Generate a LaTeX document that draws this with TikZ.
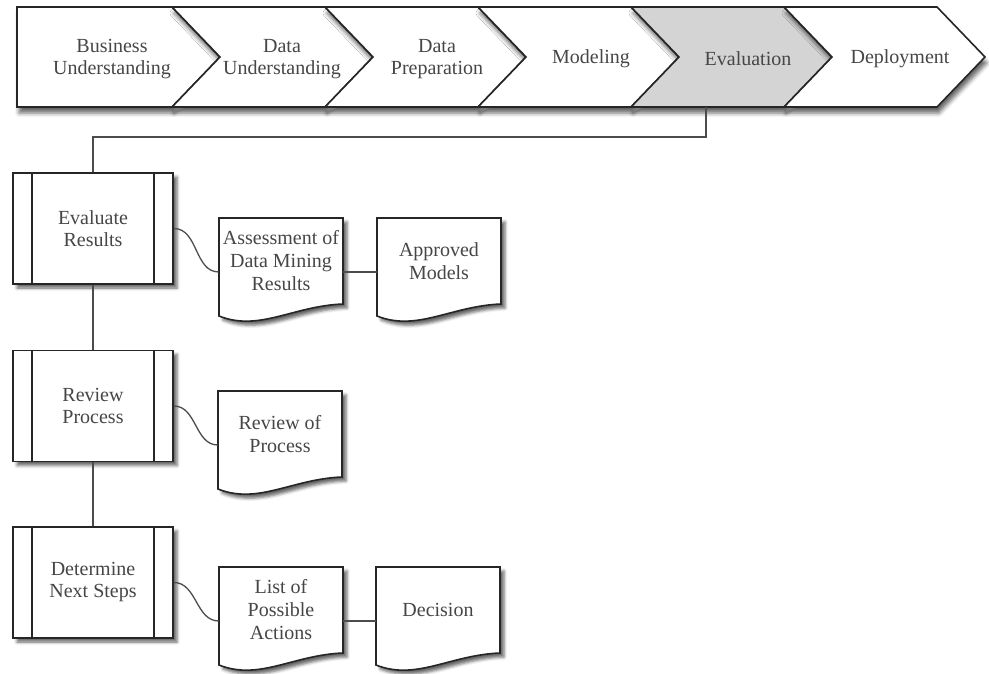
\documentclass[tikz,border=0pt]{standalone}
\usepackage{fontspec}
\setmainfont{Liberation Serif}
\usetikzlibrary{shadows.blur}

\definecolor{evalgray}{RGB}{212,212,212}
\definecolor{inkgray}{RGB}{70,70,70}

\tikzset{
  stage/.style={draw=black!85, line width=1.6pt, line join=miter,
    blur shadow={shadow xshift=2pt, shadow yshift=-6pt, shadow blur radius=4pt, shadow opacity=60}},
  stagetext/.style={text=inkgray, align=center, font=\fontsize{20}{22}\selectfont},
  procbox/.style={draw=black!85, line width=1.6pt, fill=white, minimum width=160pt,
    minimum height=111pt, align=center, text=inkgray, font=\fontsize{20}{22}\selectfont,
    blur shadow={shadow xshift=4pt, shadow yshift=-4pt, shadow blur radius=3pt, shadow opacity=60},
    path picture={\draw[black!85, line width=1.4pt]
      ([xshift=19pt]path picture bounding box.north west) -- ([xshift=19pt]path picture bounding box.south west)
      ([xshift=-19pt]path picture bounding box.north east) -- ([xshift=-19pt]path picture bounding box.south east);}},
  doc/.style={minimum width=124pt, minimum height=86pt, inner sep=0pt, align=center,
    text=inkgray, font=\fontsize{20}{23}\selectfont},
  docline/.style={draw=black!85, line width=1.6pt, fill=white,
    blur shadow={shadow xshift=4pt, shadow yshift=-4pt, shadow blur radius=3pt, shadow opacity=60}},
  conn/.style={draw=black!70, line width=1.3pt}
}

% document symbol: name, centre x, centre y, text
\newcommand{\docnode}[4]{%
  \draw[docline] (#2-62,#3-43) -- (#2+62,#3-43) -- (#2+62,#3+43)
    .. controls (#2+12,#3+45) and (#2-22,#3+71) .. (#2-62,#3+55) -- cycle;
  \node[doc] (#1) at (#2,#3) {#4};}

\begin{document}
\begin{tikzpicture}[x=1pt, y=-1pt]
\useasboundingbox (0,0) rectangle (989,674);
% Phase bar
\draw[stage, fill=white] (17,7) -- (172,7) -- (220,57) -- (172,107) -- (17,107) -- cycle;
\node[stagetext] (bu) at (112,59) {Business\\Understanding};
\foreach \bx/\tx/\fc/\nm/\lbl in {172/282/white/du/{Data\\Understanding},
    325/437/white/dp/{Data\\Preparation}, 478/591/white/mo/{Modeling},
    631/748/evalgray/ev/{Evaluation}, 784/900/white/de/{Deployment}}{
  \draw[stage, fill=\fc] (\bx,7) -- (\bx+153,7) -- (\bx+201,57) -- (\bx+153,107)
    -- (\bx,107) -- (\bx+48,57) -- cycle;
  \node[stagetext] (\nm) at (\tx,59) {\lbl};
}
\coordinate (evalbot) at (706,107);

% Tasks
\node[procbox] (er) at (93,228.5) {Evaluate\\Results};
\node[procbox] (rp) at (93,406) {Review\\Process};
\node[procbox] (dn) at (93,582.5) {Determine\\Next Steps};

% Outputs
\docnode{adm}{281}{261}{Assessment of\\Data Mining\\Results}
\docnode{am}{439}{261}{Approved\\Models}
\docnode{rop}{280}{434}{Review of\\Process}
\docnode{lpa}{281}{610}{List of\\Possible\\Actions}
\docnode{dec}{438}{610}{Decision}

% Connectors
\draw[conn] (evalbot) -- ++(0,30) -| (er.north);
\draw[conn] (er.south) -- (rp.north);
\draw[conn] (rp.south) -- (dn.north);
\draw[conn] (er.east) to[out=0, in=180] ([yshift=-11pt]adm.west);
\draw[conn] (rp.east) to[out=0, in=180] ([yshift=-11pt]rop.west);
\draw[conn] (dn.east) to[out=0, in=180] ([yshift=-11pt]lpa.west);
\draw[conn] ([yshift=-11pt]adm.east) -- ([yshift=-11pt]am.west);
\draw[conn] ([yshift=-11pt]lpa.east) -- ([yshift=-11pt]dec.west);
\end{tikzpicture}
\end{document}
